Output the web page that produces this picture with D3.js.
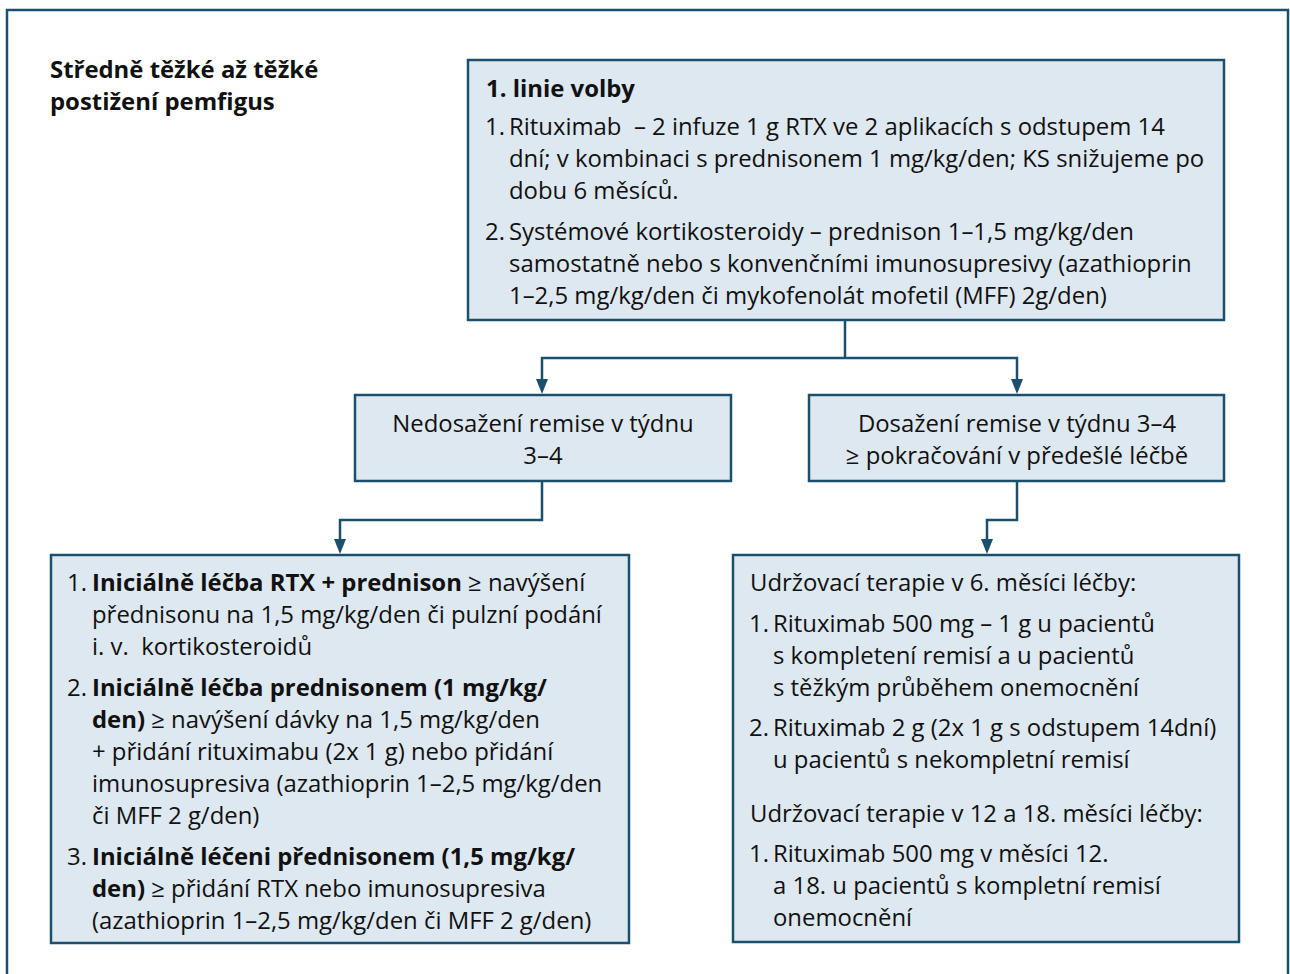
<!DOCTYPE html>
<html>
<head>
<meta charset="utf-8">
<script src="https://cdn.jsdelivr.net/npm/d3@7"></script>
<style>
  body { margin: 0; background: #fff; }
  svg text { font-family: "Open Sans", sans-serif; white-space: pre; }
</style>
</head>
<body>
<div id="chart"></div>
<script>
// texts of the flowchart (** marks bold)
const titleLines = ["Středně těžké až těžké", "postižení pemfigus"]

const topHeading = "1. linie volby"
const topItems = [
    ["1.", ["Rituximab  – 2 infuze 1 g RTX ve 2 aplikacích s odstupem 14",
            "dní; v kombinaci s prednisonem 1 mg/kg/den; KS snižujeme po",
            "dobu 6 měsíců."]],
    ["2.", ["Systémové kortikosteroidy – prednison 1–1,5 mg/kg/den",
            "samostatně nebo s konvenčními imunosupresivy (azathioprin",
            "1–2,5 mg/kg/den či mykofenolát mofetil (MFF) 2g/den)"]]
]

const midLeftLines = ["Nedosažení remise v týdnu", "3–4"]
const midRightLines = ["Dosažení remise v týdnu 3–4", "≥ pokračování v předešlé léčbě"]

const leftItems = [
    ["1.", ["**Iniciálně léčba RTX + prednison** ≥ navýšení",
            "přednisonu na 1,5 mg/kg/den či pulzní podání",
            "i. v.  kortikosteroidů"]],
    ["2.", ["**Iniciálně léčba prednisonem (1 mg/kg/**",
            "**den)** ≥ navýšení dávky na 1,5 mg/kg/den",
            "+ přidání rituximabu (2x 1 g) nebo přidání",
            "imunosupresiva (azathioprin 1–2,5 mg/kg/den",
            "či MFF 2 g/den)"]],
    ["3.", ["**Iniciálně léčeni přednisonem (1,5 mg/kg/**",
            "**den)** ≥ přidání RTX nebo imunosupresiva",
            "(azathioprin 1–2,5 mg/kg/den či MFF 2 g/den)"]]
]

const rightHeading6 = "Udržovací terapie v 6. měsíci léčby:"
const rightItems6 = [
    ["1.", ["Rituximab 500 mg – 1 g u pacientů",
            "s kompletení remisí a u pacientů",
            "s těžkým průběhem onemocnění"]],
    ["2.", ["Rituximab 2 g (2x 1 g s odstupem 14dní)",
            "u pacientů s nekompletní remisí"]]
]
const rightHeading12 = "Udržovací terapie v 12 a 18. měsíci léčby:"
const rightItems12 = [
    ["1.", ["Rituximab 500 mg v měsíci 12.",
            "a 18. u pacientů s kompletní remisí",
            "onemocnění"]]
]

const W = 1290, H = 974
const dark = "#1b4f6e"
const fill = "#dde8f0"
const fs = 23.9
const lh = 32

const svg = d3.select("#chart").append("svg")
    .attr("width", W)
    .attr("height", H)

// outer frame (open at bottom)
svg.append("path")
    .attr("d", "M7," + H + "V10H1288V" + H)
    .attr("fill", "none")
    .attr("stroke", dark)
    .attr("stroke-width", 2.5)

// writes one line with **bold** segments
const writeLine = (g, x, y, str, opts = {}) => {
    const t = g.append("text")
        .attr("x", x).attr("y", y)
        .attr("font-size", opts.size || fs)
        .attr("fill", "#111")
        .attr("text-anchor", opts.anchor || "start")
    if (opts.bold) t.attr("font-weight", "bold")
    str.split("**").forEach((part, i) => {
        if (part === "") return
        t.append("tspan")
            .attr("font-weight", (i % 2 === 1 || opts.bold) ? "bold" : "normal")
            .text(part)
    })
    return t
}

const box = (x, y, w, h) => {
    const g = svg.append("g")
    g.append("rect")
        .attr("x", x).attr("y", y)
        .attr("width", w).attr("height", h)
        .attr("fill", fill)
        .attr("stroke", dark)
        .attr("stroke-width", 2.5)
    return g
}

// list items with hanging indent; returns last baseline
const writeItems = (g, items, numX, textX, y0, gap) => {
    let y = y0
    items.forEach((item, k) => {
        if (k > 0) y += gap
        writeLine(g, numX, y, item[0])
        item[1].forEach((ln) => {
            writeLine(g, textX, y, ln)
            y += lh
        })
        y -= lh
    })
    return y
}

// polyline ending in a downward arrowhead at the last point
const connector = (pts) => {
    const end = pts[pts.length - 1]
    const body = pts.slice(0, -1).concat([[end[0], end[1] - 12]])
    svg.append("path")
        .attr("d", d3.line()(body))
        .attr("fill", "none")
        .attr("stroke", dark)
        .attr("stroke-width", 2.5)
    svg.append("path")
        .attr("d", d3.line()([[end[0] - 6, end[1] - 15], [end[0] + 6, end[1] - 15], [end[0], end[1]]]) + "Z")
        .attr("fill", dark)
}

// title
titleLines.forEach((t, i) => writeLine(svg, 50, 78 + i * lh, t, { bold: true }))

// top box
const gTop = box(468, 60, 756, 260)
writeLine(gTop, 486, 97, topHeading, { bold: true })
writeItems(gTop, topItems, 485, 509, 135, 41)

// connectors from top box
svg.append("path")
    .attr("d", d3.line()([[845, 321], [845, 358]]))
    .attr("stroke", dark).attr("stroke-width", 2.5)
connector([[845, 358], [542, 358], [542, 394]])
connector([[845, 358], [1017, 358], [1017, 394]])

// middle boxes
const gML = box(355, 395, 376, 86)
midLeftLines.forEach((t, i) => writeLine(gML, 543, 432 + i * lh, t, { anchor: "middle" }))
const gMR = box(809, 395, 415, 86)
midRightLines.forEach((t, i) => writeLine(gMR, 1017, 432 + i * lh, t, { anchor: "middle" }))

connector([[542, 482], [542, 520], [340, 520], [340, 554]])
connector([[1017, 482], [1017, 520], [987, 520], [987, 554]])

// bottom left box
const gBL = box(51, 555, 578, 388)
writeItems(gBL, leftItems, 67, 92, 591, 41)

// bottom right box
const gBR = box(733, 555, 506, 387)
writeLine(gBR, 750, 591, rightHeading6)
let yb = writeItems(gBR, rightItems6, 749, 773, 632, 40)
writeLine(gBR, 750, yb + 54, rightHeading12)
writeItems(gBR, rightItems12, 749, 773, yb + 94, 40)
</script>
</body>
</html>
